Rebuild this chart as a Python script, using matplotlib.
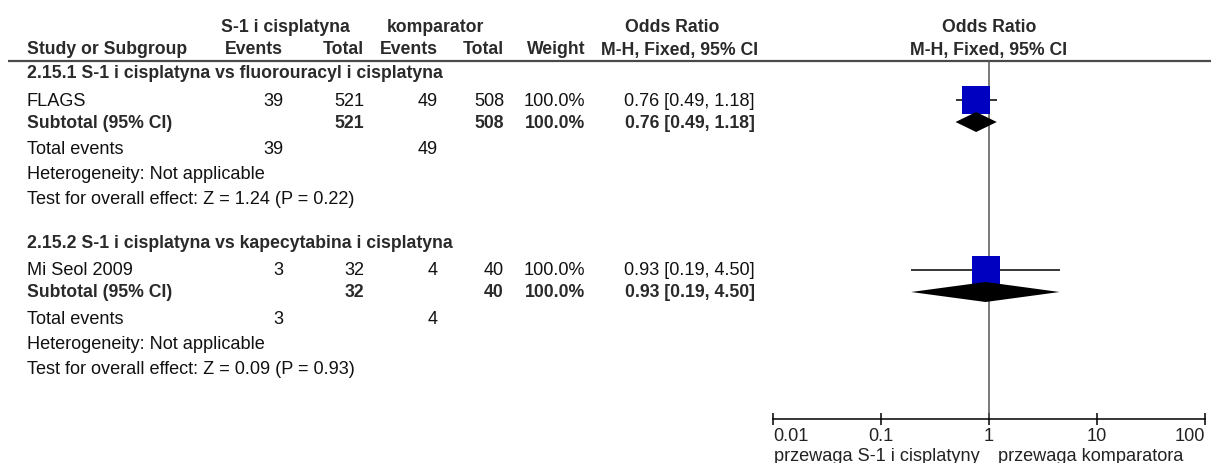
import numpy as np
import matplotlib.pyplot as plt
from matplotlib.ticker import NullLocator

# ============================================================
# DANE METAANALIZY (OR, M-H, model stały)
# ============================================================

subgroups = [
    "2.15.1 S-1 i cisplatyna vs fluorouracyl i cisplatyna",
    "2.15.2 S-1 i cisplatyna vs kapecytabina i cisplatyna",
]
studies = ["FLAGS", "Mi Seol 2009"]

events_exp = [39, 3]
total_exp = [521, 32]
events_ctl = [49, 4]
total_ctl = [508, 40]
weights = [100.0, 100.0]

odds_ratio = [0.76, 0.93]
ci_low = [0.49, 0.19]
ci_high = [1.18, 4.50]

# efekt sumaryczny w podgrupie (jedno badanie -> ten sam wynik)
sub_or = [0.76, 0.93]
sub_low = [0.49, 0.19]
sub_high = [1.18, 4.50]

z_values = [1.24, 0.09]
p_values = [0.22, 0.93]

tick_values = [0.01, 0.1, 1, 10, 100]
tick_labels = ["0.01", "0.1", "1", "10", "100"]
favours_left = "przewaga S-1 i cisplatyny"
favours_right = "przewaga komparatora"

# ============================================================
# UKŁAD (w pikselach)
# ============================================================

W, H = 1211, 464
FONT = "Liberation Sans"
FS = 13.1
FS_BOLD = 12.7
TXT = "#111111"
BOLD = "#2a2a2a"

group_top = [74, 244]
col_events_exp = 283
col_total_exp = 364
col_events_ctl = 438
col_total_ctl = 504
col_weight = 585
col_ci = 755
col_left = 27

fig = plt.figure(figsize=(W / 100, H / 100), dpi=100)

# tabela
tab = fig.add_axes([0, 0, 1, 1])
tab.set_xlim(0, W)
tab.set_ylim(H, 0)
tab.axis("off")


def put(x, y, s, ha="left", bold=False):
    tab.text(x, y, s, ha=ha, va="center", family=FONT,
             fontsize=FS_BOLD if bold else FS,
             fontweight="bold" if bold else "normal",
             color=BOLD if bold else TXT)


# nagłówki
put(285, 27, "S-1 i cisplatyna", ha="center", bold=True)
put(435, 27, "komparator", ha="center", bold=True)
put(672, 27, "Odds Ratio", ha="center", bold=True)
put(989, 27, "Odds Ratio", ha="center", bold=True)
put(col_left, 50, "Study or Subgroup", bold=True)
put(col_events_exp, 50, "Events", ha="right", bold=True)
put(col_total_exp, 50, "Total", ha="right", bold=True)
put(col_events_ctl, 50, "Events", ha="right", bold=True)
put(col_total_ctl, 50, "Total", ha="right", bold=True)
put(col_weight, 50, "Weight", ha="right", bold=True)
put(680, 50, "M-H, Fixed, 95% CI", ha="center", bold=True)
put(989, 50, "M-H, Fixed, 95% CI", ha="center", bold=True)
tab.plot([8, W], [62, 62], color="#4a4a4a", lw=1.6, solid_capstyle="butt")

for i in range(len(studies)):
    y0 = group_top[i]
    y_study = y0 + 27
    y_sub = y0 + 49
    y_tot = y0 + 76
    y_het = y0 + 101
    y_test = y0 + 126

    put(col_left, y0, subgroups[i], bold=True)

    put(col_left, y_study, studies[i])
    put(col_events_exp, y_study, str(events_exp[i]), ha="right")
    put(col_total_exp, y_study, str(total_exp[i]), ha="right")
    put(col_events_ctl, y_study, str(events_ctl[i]), ha="right")
    put(col_total_ctl, y_study, str(total_ctl[i]), ha="right")
    put(col_weight, y_study, f"{weights[i]:.1f}%", ha="right")
    put(col_ci, y_study,
        f"{odds_ratio[i]:.2f} [{ci_low[i]:.2f}, {ci_high[i]:.2f}]", ha="right")

    put(col_left, y_sub, "Subtotal (95% CI)", bold=True)
    put(col_total_exp, y_sub, str(total_exp[i]), ha="right", bold=True)
    put(col_total_ctl, y_sub, str(total_ctl[i]), ha="right", bold=True)
    put(col_weight, y_sub, f"{weights[i]:.1f}%", ha="right", bold=True)
    put(col_ci, y_sub,
        f"{sub_or[i]:.2f} [{sub_low[i]:.2f}, {sub_high[i]:.2f}]",
        ha="right", bold=True)

    put(col_left, y_tot, "Total events")
    put(col_events_exp, y_tot, str(events_exp[i]), ha="right")
    put(col_events_ctl, y_tot, str(events_ctl[i]), ha="right")
    put(col_left, y_het, "Heterogeneity: Not applicable")
    put(col_left, y_test,
        f"Test for overall effect: Z = {z_values[i]:.2f} (P = {p_values[i]:.2f})")

# ============================================================
# WYKRES DRZEWKOWY (skala logarytmiczna)
# ============================================================

x0, x1 = 773, 1205
ax = fig.add_axes([x0 / W, 0, (x1 - x0) / W, 1])
ax.set_xscale("log")
ax.set_xlim(0.01, 100)
ax.set_ylim(H, 0)
ax.patch.set_alpha(0)
for side in ["top", "left", "right"]:
    ax.spines[side].set_visible(False)
ax.spines["bottom"].set_position(("data", 420))
ax.spines["bottom"].set_linewidth(1.1)
ax.yaxis.set_visible(False)
ax.set_xticks(tick_values)
ax.set_xticklabels(tick_labels)
ax.xaxis.set_minor_locator(NullLocator())
ax.tick_params(axis="x", direction="inout", length=9, width=1.1, pad=1.5,
               labelsize=FS, labelcolor="#222222")
for lab in ax.get_xticklabels():
    lab.set_family(FONT)
ax.get_xticklabels()[0].set_ha("left")
ax.get_xticklabels()[-1].set_ha("right")

# linia braku efektu
ax.vlines(1, 62, 420, color="#555555", lw=1.1)

for i in range(len(studies)):
    y_study = group_top[i] + 27
    y_sub = group_top[i] + 49
    ax.hlines(y_study, ci_low[i], ci_high[i], color="black", lw=1.1)
    ax.scatter(odds_ratio[i], y_study, marker="s", s=390, color="#0000C0",
               linewidths=0, zorder=3)
    ax.fill([sub_low[i], sub_or[i], sub_high[i], sub_or[i]],
            [y_sub, y_sub - 10, y_sub, y_sub + 10],
            color="black", lw=0, zorder=4)

tab.text(980, 457, favours_left, ha="right", va="center", fontsize=FS,
         family=FONT, color="#222222")
tab.text(998, 457, favours_right, ha="left", va="center", fontsize=FS,
         family=FONT, color="#222222")

plt.savefig("out.png", dpi=100)
